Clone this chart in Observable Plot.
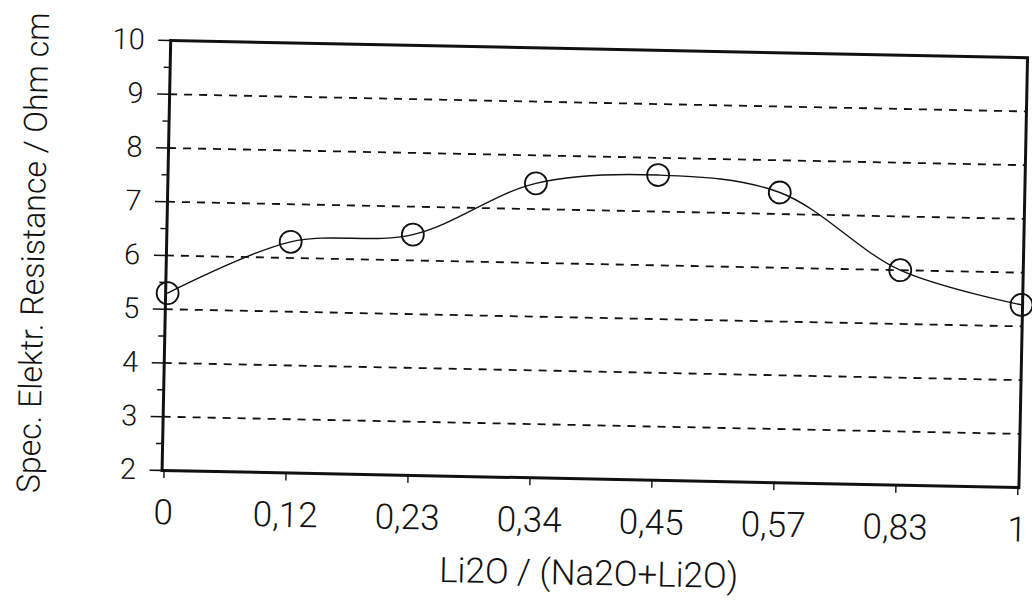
<!DOCTYPE html>
<html>
<head>
<meta charset="utf-8">
<script src="https://cdn.jsdelivr.net/npm/d3@7"></script>
<script src="https://cdn.jsdelivr.net/npm/@observablehq/plot@0.6"></script>
<style>
  html, body { margin: 0; padding: 0; background: #fff; overflow: hidden; }
  /* the printed sheet sits slightly askew */
  #chart { width: 1032px; height: 606px; transform: rotate(1.15deg); transform-origin: 516px 303px; }
  #chart svg { display: block; }
</style>
</head>
<body>
<div id="chart"></div>
<script>
// Li2O share of the alkali oxides (category labels, German decimal comma)
const ratioLabels = ["0", "0,12", "0,23", "0,34", "0,45", "0,57", "0,83", "1"];
// Specific electrical resistance, Ohm cm
const resistance = [5.30, 6.30, 6.48, 7.48, 7.68, 7.40, 6.00, 5.40];
// Dashed reference lines and axis ticks
const gridValues = [3, 4, 5, 6, 7, 8, 9];
const majorTicks = [2, 3, 4, 5, 6, 7, 8, 9, 10];
const minorTicks = [2.5, 3.5, 4.5, 5.5, 6.5, 7.5, 8.5, 9.5];

const rows = ratioLabels.map((r, i) => ({ratio: r, value: resistance[i]}));

const font = "Roboto, 'Liberation Sans', sans-serif";
const ink = "#111";

const chart = Plot.plot({
  width: 1032,
  height: 606,
  marginLeft: 165,
  marginRight: 10,
  marginTop: 47,
  marginBottom: 129,
  style: {fontFamily: font, fontWeight: 300, color: ink, background: "#fff"},
  x: {type: "point", domain: ratioLabels, padding: 0},
  y: {domain: [2, 10]},
  marks: [
    Plot.ruleY(gridValues, {stroke: ink, strokeWidth: 1.8, strokeDasharray: "8,7"}),
    Plot.line(rows, {x: "ratio", y: "value", curve: "catmull-rom", stroke: ink, strokeWidth: 1.4}),
    Plot.dot(rows, {x: "ratio", y: "value", r: 11, stroke: ink, strokeWidth: 1.8, fill: "none"}),
    Plot.frame({stroke: ink, strokeWidth: 3}),
    Plot.axisY({
      ticks: majorTicks, tickSize: 12, tickPadding: 14, fontSize: 29, tickFormat: d => String(d),
      strokeWidth: 1.6,
      label: "Spec. Elektr. Resistance / Ohm cm", labelAnchor: "center", labelArrow: "none",
      labelOffset: 145
    }),
    Plot.axisY({ticks: minorTicks, tickSize: 6, strokeWidth: 1.4, text: null, label: null}),
    Plot.axisX({
      tickSize: 8, tickPadding: 21, fontSize: 35, strokeWidth: 1.4,
      label: "Li2O / (Na2O+Li2O)", labelAnchor: "center", labelArrow: "none", labelOffset: 106
    })
  ]
});

// axis titles: y a little larger than its tick labels, x matching its own
chart.querySelectorAll("[aria-label='y-axis label'] text").forEach(t => t.setAttribute("font-size", 32));
chart.querySelectorAll("[aria-label='x-axis label'] text").forEach(t => t.setAttribute("font-size", 35));

document.getElementById("chart").appendChild(chart);
</script>
</body>
</html>
